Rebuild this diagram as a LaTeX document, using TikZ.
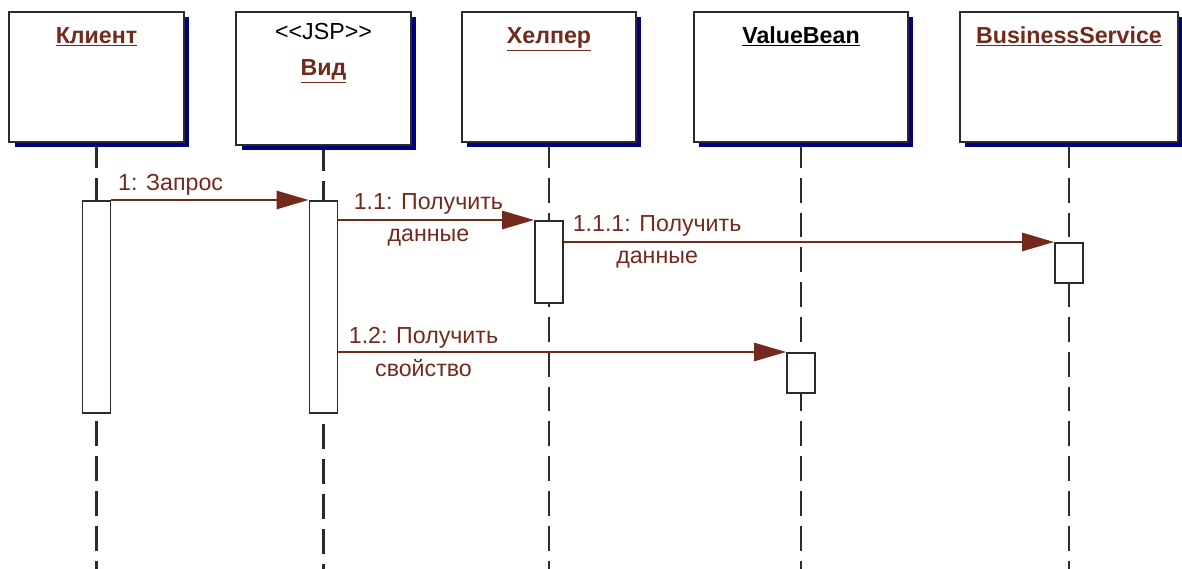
\documentclass[tikz,border=0pt]{standalone}
\usepackage{fontspec}
\setmainfont{Liberation Sans}
\usepackage{tikz}
\usetikzlibrary{arrows.meta, positioning, shadows, backgrounds}
\definecolor{msgred}{HTML}{732A1C}
\definecolor{shadowblue}{HTML}{000080}
\definecolor{edgegray}{HTML}{2B2B2B}

\begin{document}
\begin{tikzpicture}[
  x=0.025cm, y=-0.025cm,
  every node/.style={font=\fontsize{16.5}{23}\selectfont},
  head/.style={draw=edgegray, line width=1.4pt, fill=white, inner sep=0pt,
    minimum width=4.35cm, minimum height=3.25cm,
    drop shadow={shadow xshift=0.13cm, shadow yshift=-0.13cm, fill=shadowblue, opacity=1}},
  ttl/.style={anchor=base, font=\fontsize{16.5}{23}\selectfont\bfseries, text=msgred},
  act/.style={draw=edgegray, line width=1.4pt, fill=white, inner sep=0pt, minimum width=0.7cm, anchor=north},
  life/.style={draw=edgegray, line width=1.5pt, dash pattern=on 0.62cm off 0.25cm},
  msg/.style={draw=msgred, line width=1.1pt, -{Triangle[length=0.8cm, width=0.46cm]}},
  lbl/.style={text=msgred, align=center, inner sep=1pt}
]
  \useasboundingbox (0,0) rectangle (1182,569);

  % objects
  \node[head] (client) at (96.5,77) {};
  \node[head, minimum height=3.325cm] (view) at (323.5,78.5) {};
  \node[head] (helper) at (549,77) {};
  \node[head, minimum width=5.35cm] (bean) at (801,77) {};
  \node[head, minimum width=5.45cm] (service) at (1069,77) {};

  \node[ttl] at ([yshift=-0.8cm]client.north) {\underline{Клиент}};
  \node[ttl, text=black, font=\fontsize{16.5}{23}\selectfont] at ([yshift=-0.72cm]view.north) {<\kern0pt<JSP>\kern0pt>};
  \node[ttl] at ([yshift=-1.62cm]view.north) {\underline{Вид}};
  \node[ttl] at ([yshift=-0.8cm]helper.north) {\underline{Хелпер}};
  \node[ttl, text=black] at ([yshift=-0.8cm]bean.north) {\underline{ValueBean}};
  \node[ttl] at ([yshift=-0.8cm]service.north) {\underline{BusinessService}};

  % activations
  \node[act, minimum height=5.3cm] (clientA) at (client.south |- 0,200) {};
  \node[act, minimum height=5.3cm] (viewA) at (view.south |- 0,200) {};
  \node[act, minimum height=2.05cm] (helperA) at (helper.south |- 0,220) {};
  \node[act, minimum height=1cm] (serviceA) at (service.south |- 0,242) {};
  \node[act, minimum height=1cm] (beanA) at (bean.south |- 0,352) {};

  \begin{scope}[on background layer]
    \foreach \h in {client, view, helper, bean, service}
      \draw[life] (\h.south) -- (\h.south |- 0,569);
  \end{scope}

  % messages
  \draw[msg] (clientA.north east) -- node[lbl, above=2pt, pos=0.3] {1: Запрос} (viewA.north west);
  \draw[msg] (viewA.east |- helperA.north) -- node[lbl, pos=0.46] {1.1: Получить\\данные} (helperA.north west);
  \draw[msg] (helperA.east |- serviceA.north) -- node[lbl, pos=0.19] {1.1.1: Получить\\данные} (serviceA.north west);
  \draw[msg] (viewA.east |- beanA.north) -- node[lbl, pos=0.19] {1.2: Получить\\свойство} (beanA.north west);
\end{tikzpicture}
\end{document}
